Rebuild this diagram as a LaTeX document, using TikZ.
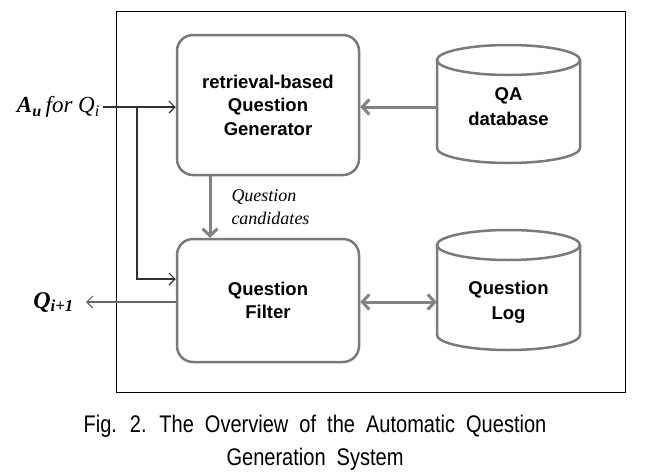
\documentclass[tikz,border=0pt]{standalone}
\usepackage{fontspec}
\setmainfont{Liberation Serif}
\newfontfamily\boxfont{Liberation Sans}
\newfontfamily\capfont[FakeStretch=0.835]{Liberation Sans}
\usepackage{xcolor}
\usepackage{tikz}
\usetikzlibrary{positioning, arrows.meta}

\definecolor{boxgray}{HTML}{7A7A7A}
\definecolor{arrgray}{HTML}{828282}

\newcommand{\capstyle}{\capfont\fontsize{24}{33}\selectfont\spaceskip=11pt\relax}

\tikzset{
  bigtip/.tip={Straight Barb[length=7pt, width=15pt]},
  thintip/.tip={Straight Barb[length=6pt, width=12pt]}
}

\begin{document}
\begin{tikzpicture}[x=1pt, y=-1pt,
    procbox/.style={draw=boxgray, line width=2.5pt, rounded corners=16pt,
      minimum width=182pt, align=center,
      font=\boxfont\fontsize{18.5}{23.5}\selectfont\bfseries},
    dbbox/.style={minimum width=143pt, inner sep=0pt, align=center,
      font=\boxfont\fontsize{18.5}{25}\selectfont\bfseries},
    dbline/.style={draw=boxgray, line width=2.5pt},
    bigarrow/.style={draw=arrgray, line width=3pt, -bigtip},
    thinarrow/.style={draw=black!80, line width=1.1pt, -thintip}]
  \useasboundingbox (0,0) rectangle (646,474);

  % frame
  \draw[line width=1pt] (116,11) rectangle (625,392);

  % boxes
  \node[procbox, minimum height=140pt] (gen) at (268,105) {retrieval-based\\Question\\Generator};
  \node[procbox, minimum height=123pt] (filter) at (268,300.5) {Question\\Filter};
  \node[dbbox] (qadb) at (508.5,107) {QA\\database};
  \node[dbbox] (qlog) at (508.5,302) {Question\\Log};

  % cylinders
  \foreach \top/\bot in {45/163, 230/350} {
    \draw[dbline] (508.5,\top+15) ellipse [x radius=71.5pt, y radius=15pt];
    \draw[dbline] (437,\top+15) -- (437,\bot-15)
      arc [start angle=180, end angle=360, x radius=71.5pt, y radius=15pt]
      -- (580,\top+15);
  }

  % thick arrows
  \draw[bigarrow] (qadb.west) -- (gen.east |- qadb.west);
  \draw[bigarrow] ([xshift=-58pt]gen.south) -- ([xshift=-58pt]gen.south |- filter.north)
    node[midway, right=20pt, inner sep=0pt, align=left,
      font=\itshape\fontsize{18}{23}\selectfont] (cand) {Question\\candidates};
  \draw[bigarrow, bigtip-bigtip] (filter.east |- qlog.west) -- (qlog.west);

  % input and output
  \node[anchor=east, inner xsep=3pt, font=\fontsize{23}{27}\selectfont] (inlabel) at (103,107)
    {\textbf{\textit{A}}\textsubscript{\textbf{\textit{u}}}\,\textit{for Q}\textsubscript{\textit{i}}};
  \node[anchor=east, inner xsep=12pt, font=\fontsize{24}{28}\selectfont] (outlabel) at (86,302)
    {\textbf{\textit{Q}}\textsubscript{\textbf{\textit{i+1}}}};
  \coordinate (split) at (137,107);

  \draw[thinarrow] (inlabel.east) -- (gen.west |- inlabel.east);
  \draw[thinarrow] (split) |- ([yshift=21.5pt]filter.west);
  \draw[thinarrow, draw=black!60] (filter.west |- outlabel.east) -- (outlabel.east);

  % caption
  \node[inner sep=0pt, align=center, font=\capstyle] (caption) at (315,443)
    {Fig. 2. The Overview of the Automatic Question\\Generation System};
\end{tikzpicture}
\end{document}
